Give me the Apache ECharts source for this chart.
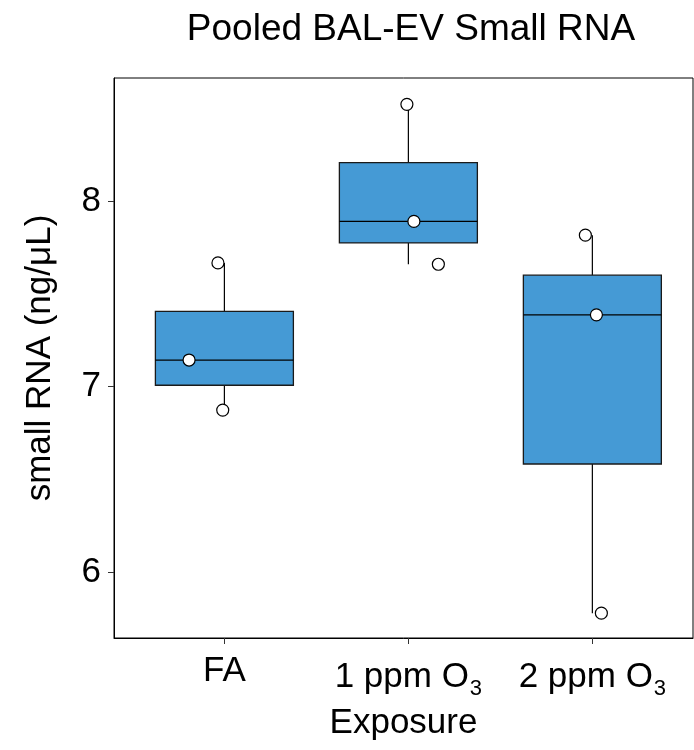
<!DOCTYPE html>
<html>
<head>
<meta charset="utf-8">
<script src="https://cdn.jsdelivr.net/npm/echarts@6/dist/echarts.min.js"></script>
<style>
  html, body { margin: 0; padding: 0; background: #fff; }
  #chart-box { width: 694px; height: 750px; }
</style>
</head>
<body>
<div id="chart-box"></div>
<script>
// categories and tick values
var categories = ['FA', '1 ppm O|3', '2 ppm O|3'];
var categoryPos = [1, 2, 3];
var yTicks = [6, 7, 8];

// box stats per group: [min, q1, median, q3, max]
var boxFA = [6.873, 7.007, 7.143, 7.406, 7.667];
var box1ppm = [7.660, 7.775, 7.891, 8.208, 8.523];
var box2ppm = [5.777, 6.582, 7.387, 7.601, 7.817];

// individual samples (x is jittered position on the group axis)
var pointX = [0.965, 0.808, 0.991, 1.992, 2.030, 2.163, 2.962, 3.022, 3.049];
var pointY = [7.667, 7.143, 6.873, 8.523, 7.891, 7.660, 7.817, 7.387, 5.777];

var boxes = [boxFA, box1ppm, box2ppm];
var boxData = boxes.map(function (b, i) {
  return [categoryPos[i]].concat(b);
});
var pointData = pointX.map(function (x, i) {
  return [x, pointY[i]];
});

var FONT = '"Liberation Sans", Arial, sans-serif';
var BOX_W = 0.75;

var myChart = echarts.init(document.getElementById('chart-box'));

var option = {
  backgroundColor: '#fff',
  animation: false,
  title: {
    text: 'Pooled BAL-EV Small RNA',
    left: 406,
    top: 6,
    textAlign: 'center',
    textStyle: {
      fontFamily: FONT,
      fontSize: 37,
      fontWeight: 'normal',
      color: '#000'
    }
  },
  grid: {
    left: 114,
    top: 78,
    width: 579,
    height: 560,
    show: true,
    borderColor: '#000',
    borderWidth: 1,
    backgroundColor: 'transparent'
  },
  xAxis: {
    type: 'value',
    min: 0.4,
    max: 3.547,
    name: 'Exposure',
    nameLocation: 'middle',
    nameGap: 68,
    nameTextStyle: { fontFamily: FONT, fontSize: 35, color: '#000' },
    splitLine: { show: false },
    axisLine: { show: true, onZero: false, lineStyle: { color: '#000', width: 1 } },
    axisTick: {
      show: true,
      length: 6,
      customValues: categoryPos,
      lineStyle: { color: '#333', width: 1 }
    },
    axisLabel: {
      margin: 16,
      customValues: categoryPos,
      fontFamily: FONT,
      fontSize: 35,
      color: '#000',
      formatter: function (v) {
        var s = categories[Math.round(v) - 1];
        var parts = s.split('|');
        if (parts.length === 1) return '{n|' + parts[0] + '}';
        return '{n|' + parts[0] + '}{sub|' + parts[1] + '}';
      },
      rich: {
        n: { fontFamily: FONT, fontSize: 35, color: '#000' },
        sub: { fontFamily: FONT, fontSize: 22, color: '#000', padding: [24, 0, 0, 1] }
      }
    }
  },
  yAxis: {
    type: 'value',
    min: 5.643,
    max: 8.665,
    name: 'small RNA (ng/μL)',
    nameLocation: 'middle',
    nameGap: 56,
    nameRotate: 90,
    nameTextStyle: { fontFamily: FONT, fontSize: 35, color: '#000' },
    splitLine: { show: false },
    axisLine: { show: true, lineStyle: { color: '#000', width: 1 } },
    axisTick: {
      show: true,
      length: 6,
      customValues: yTicks,
      lineStyle: { color: '#333', width: 1 }
    },
    axisLabel: {
      margin: 13,
      customValues: yTicks,
      fontFamily: FONT,
      fontSize: 35,
      color: '#000'
    }
  },
  series: [
    {
      type: 'custom',
      data: boxData,
      encode: { x: 0, y: [1, 2, 3, 4, 5] },
      z: 2,
      renderItem: function (params, api) {
        var x = api.value(0);
        var lo = api.coord([x, api.value(1)]);
        var q1 = api.coord([x, api.value(2)]);
        var med = api.coord([x, api.value(3)]);
        var q3 = api.coord([x, api.value(4)]);
        var hi = api.coord([x, api.value(5)]);
        var half = api.size([BOX_W, 0])[0] / 2;
        var line = { stroke: '#000', lineWidth: 1.2 };
        return {
          type: 'group',
          children: [
            { type: 'line', shape: { x1: hi[0], y1: hi[1], x2: q3[0], y2: q3[1] }, style: line },
            { type: 'line', shape: { x1: q1[0], y1: q1[1], x2: lo[0], y2: lo[1] }, style: line },
            {
              type: 'rect',
              shape: { x: q3[0] - half, y: q3[1], width: half * 2, height: q1[1] - q3[1] },
              style: { fill: '#459AD5', stroke: '#1a1a1a', lineWidth: 1.3 }
            },
            { type: 'line', shape: { x1: med[0] - half, y1: med[1], x2: med[0] + half, y2: med[1] }, style: line }
          ]
        };
      }
    },
    {
      type: 'scatter',
      data: pointData,
      symbol: 'circle',
      symbolSize: 12,
      z: 3,
      itemStyle: { color: '#fff', borderColor: '#000', borderWidth: 1.2, opacity: 1 }
    }
  ]
};

myChart.setOption(option);
</script>
</body>
</html>
